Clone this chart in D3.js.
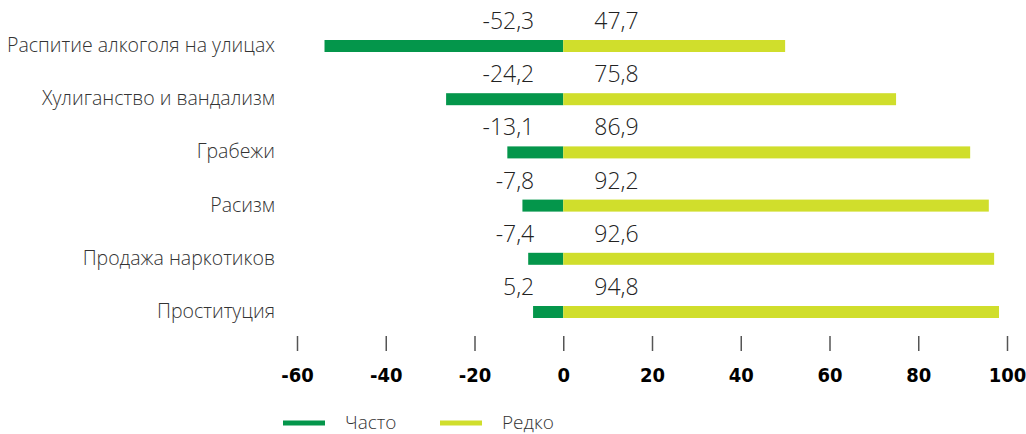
<!DOCTYPE html>
<html lang="ru">
<head>
	<meta charset="utf-8">
	<title>Bar chart</title>
	<script src="https://d3js.org/d3.v7.min.js"></script>
	<style>
		body { margin: 0; background: #fff; }
		.cat { font-family: "Open Sans", sans-serif; font-weight: 300; font-size: 19.5px; fill: #333; }
		.val { font-family: "Open Sans", sans-serif; font-weight: 300; font-size: 23px; fill: #222; }
		.tick text { font-family: "DejaVu Sans Condensed", "DejaVu Sans", sans-serif; font-stretch: condensed; font-weight: bold; font-size: 20px; fill: #000; }
		.tick line { stroke: #555; stroke-width: 1.5; }
		.leg { font-family: "Open Sans", sans-serif; font-weight: 300; font-size: 19px; fill: #333; }
	</style>
</head>
<body>
	<script>
		var w = 1026;
		var h = 434;

		var categories = ["Распитие алкоголя на улицах", "Хулиганство и вандализм", "Грабежи", "Расизм", "Продажа наркотиков", "Проституция"];
		// bar lengths as drawn in the picture
		var often = [-53.8, -26.4, -12.6, -9.2, -7.9, -6.8];
		var rarely = [50.0, 75.0, 91.7, 95.9, 97.1, 98.2];
		// value labels as printed
		var oftenLabels = ["-52,3", "-24,2", "-13,1", "-7,8", "-7,4", "5,2"];
		var rarelyLabels = ["47,7", "75,8", "86,9", "92,2", "92,6", "94,8"];
		var tickValues = [-60, -40, -20, 0, 20, 40, 60, 80, 100];
		var seriesNames = ["Часто", "Редко"];
		var colors = ["#04964b", "#d0de2c"];

		var svg = d3.select("body").append("svg")
			.attr("width", w)
			.attr("height", h);

		var x = d3.scaleLinear().domain([-60, 100]).range([297, 1007]);
		var y = d3.scalePoint().domain(categories).range([46, 312]);
		var barH = 12;

		// category labels
		svg.selectAll("text.cat")
			.data(categories)
			.enter().append("text")
			.attr("class", "cat")
			.attr("text-anchor", "end")
			.attr("x", 275)
			.attr("y", function(d) { return y(d) + 6; })
			.text(function(d) { return d; });

		// green bars
		svg.selectAll("rect.often")
			.data(often)
			.enter().append("rect")
			.attr("x", function(d) { return x(d); })
			.attr("y", function(d, i) { return y(categories[i]) - barH / 2; })
			.attr("width", function(d) { return x(0) - x(d); })
			.attr("height", barH)
			.attr("fill", colors[0]);

		// yellow bars
		svg.selectAll("rect.rarely")
			.data(rarely)
			.enter().append("rect")
			.attr("x", x(0))
			.attr("y", function(d, i) { return y(categories[i]) - barH / 2; })
			.attr("width", function(d) { return x(d) - x(0); })
			.attr("height", barH)
			.attr("fill", colors[1]);

		// value labels
		svg.selectAll("text.vo")
			.data(oftenLabels)
			.enter().append("text")
			.attr("class", "val")
			.attr("text-anchor", "end")
			.attr("x", x(0) - 29)
			.attr("y", function(d, i) { return y(categories[i]) - 17; })
			.text(function(d) { return d; });

		svg.selectAll("text.vr")
			.data(rarelyLabels)
			.enter().append("text")
			.attr("class", "val")
			.attr("x", x(0) + 31)
			.attr("y", function(d, i) { return y(categories[i]) - 17; })
			.text(function(d) { return d; });

		// axis: small ticks with labels, no domain line
		var axis = svg.append("g")
			.attr("transform", "translate(0,336)")
			.call(d3.axisBottom(x).tickValues(tickValues).tickSize(15)
				.tickFormat(function(d) { return String(d); }));
		axis.select(".domain").remove();
		axis.selectAll(".tick text").attr("y", 46).attr("dy", 0);

		// legend
		var leg = svg.selectAll("g.leg")
			.data(seriesNames)
			.enter().append("g")
			.attr("transform", function(d, i) { return "translate(" + (283 + i * 157) + ",423)"; });
		leg.append("rect")
			.attr("x", 0).attr("y", -2.5)
			.attr("width", 42).attr("height", 5)
			.attr("fill", function(d, i) { return colors[i]; });
		leg.append("text")
			.attr("class", "leg")
			.attr("x", 62).attr("y", 6)
			.text(function(d) { return d; });
	</script>
</body>
</html>
